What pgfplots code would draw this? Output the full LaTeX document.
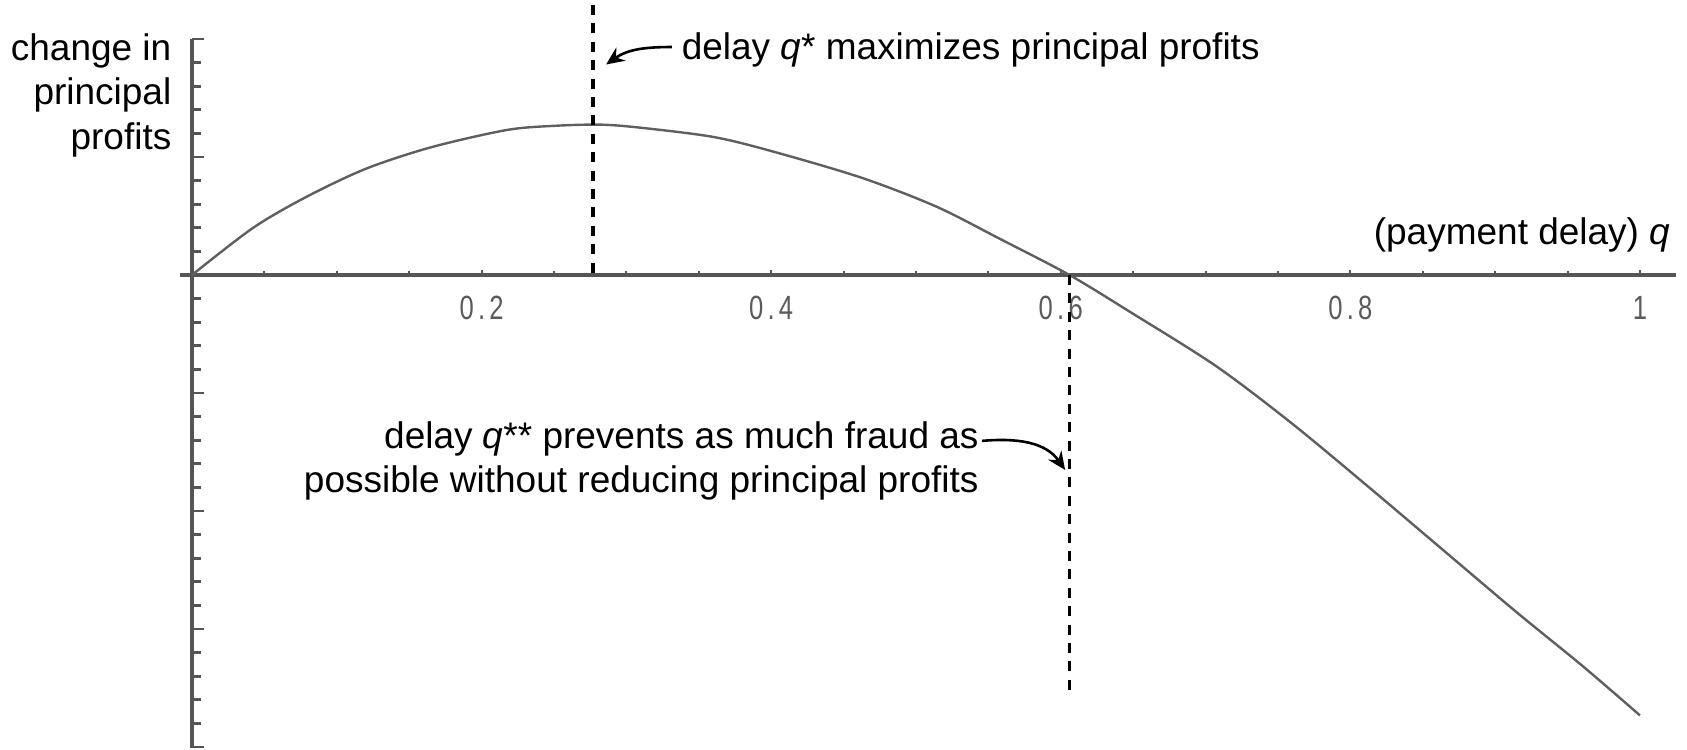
\documentclass[border=0pt]{standalone}
\usepackage{fontspec}
\setmainfont{Liberation Sans}
\usepackage{pgfplots}
\pgfplotsset{compat=1.18}
\usetikzlibrary{arrows.meta}
\definecolor{axgray}{RGB}{85,85,85}
\definecolor{curvegray}{RGB}{95,95,95}
\definecolor{labgray}{RGB}{90,90,90}
\newcommand{\anfont}{\fontsize{18.5}{22.25}\selectfont}
\newcommand{\tl}[1]{\scalebox{0.8}[1.05]{#1}}
\begin{document}
\begin{tikzpicture}
\begin{axis}[
  scale only axis,
  width=747.89pt, height=354.59pt,
  xmin=-0.008, xmax=1.025, ymin=-20.05, ymax=10,
  axis lines=middle,
  enlargelimits=false,
  clip=false,
  axis line style={-, axgray, line width=1.8pt},
  xtick={0.2,0.4,0.6,0.8,1},
  xticklabels={\tl{0\,.\,2},\tl{0\,.\,4},\tl{0\,.\,6},\tl{0\,.\,8},\tl{1}},
  minor xtick={0.05,0.1,0.15,0.25,0.3,0.35,0.45,0.5,0.55,0.65,0.7,0.75,0.85,0.9,0.95},
  ytick={-20,-15,-10,-5,5,10},
  minor ytick={-19,-18,-17,-16,-14,-13,-12,-11,-9,-8,-7,-6,-4,-3,-2,-1,1,2,3,4,6,7,8,9},
  yticklabels={},
  tick align=inside,
  xtick style={axgray, line width=1pt, /pgfplots/major tick length=2.5pt, /pgfplots/minor tick length=1.8pt},
  ytick style={axgray, line width=1.4pt, /pgfplots/major tick length=6pt, /pgfplots/minor tick length=4.5pt},
  xticklabel style={font=\fontsize{16}{16}\selectfont, text=labgray, yshift=-7pt},
]
% profit curve
\addplot[curvegray, line width=1.2pt, smooth, tension=0.5] coordinates {
  (0,0) (0.042,1.99) (0.079,3.31) (0.120,4.50) (0.165,5.41) (0.217,6.14)
  (0.250,6.32) (0.283,6.37) (0.313,6.22) (0.360,5.85) (0.399,5.27)
  (0.462,4.13) (0.514,2.90) (0.558,1.53) (0.606,0) (0.648,-1.57)
  (0.707,-3.85) (0.759,-6.26) (0.811,-8.90) (0.863,-11.6) (0.915,-14.3)
  (0.960,-16.55) (1.000,-18.66)
};
% dashed markers
\addplot[black, line width=1.6pt, dash pattern=on 5pt off 4.2pt] coordinates {(0.277,11.44) (0.277,0)};
\addplot[black, line width=1.6pt, dash pattern=on 5pt off 4.2pt] coordinates {(0.606,0) (0.606,-17.91)};
% labels
\node[anchor=east, align=right, font=\anfont, inner sep=0pt] at (axis cs:-0.014,7.62)
  {change in\\principal\\profits};
\node[anchor=east, font=\anfont, inner sep=0pt] at (axis cs:1.021,1.69)
  {(payment delay) \textit{q}};
\node[anchor=west, font=\anfont, inner sep=0pt] at (axis cs:0.338,9.53)
  {delay \textit{q}* maximizes principal profits};
\node[anchor=east, align=right, font=\anfont, inner sep=0pt] at (axis cs:0.5435,-7.88)
  {delay \textit{q}** prevents as much fraud as\\possible without reducing principal profits};
\draw[black, line width=1.3pt, -{Stealth[length=9pt,width=8pt]}]
  (axis cs:0.3315,9.66) to[out=180, in=35] (axis cs:0.286,8.92);
\draw[black, line width=1.3pt, -{Stealth[length=9pt,width=8pt]}]
  (axis cs:0.5456,-7.03) to[out=5, in=125] (axis cs:0.603,-8.26);
\coordinate (tl) at (axis cs:-0.1326,11.653);
\coordinate (br) at (axis cs:1.0325,-20.127);
\end{axis}
\pgfresetboundingbox
\useasboundingbox (tl) rectangle (br);
\end{tikzpicture}
\end{document}
